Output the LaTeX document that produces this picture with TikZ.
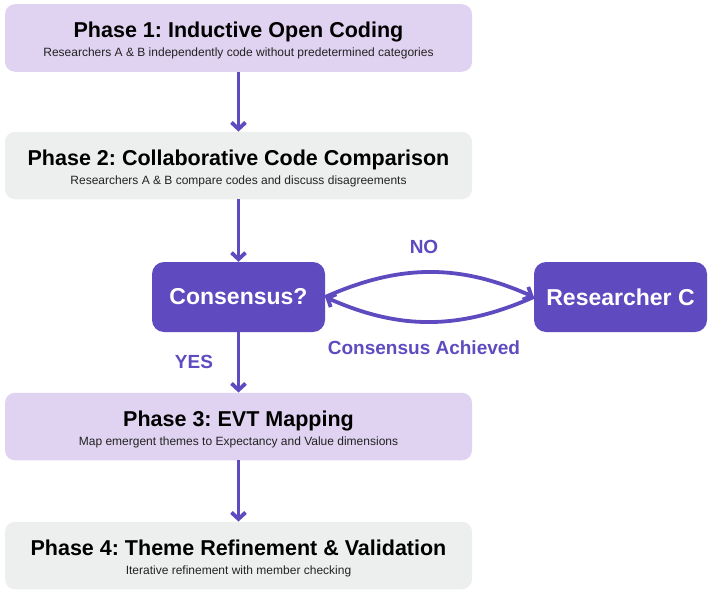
\documentclass[tikz,border=0pt]{standalone}
\usepackage{fontspec}
\setmainfont{Liberation Sans}
\usetikzlibrary{arrows.meta}
\definecolor{phasepurple}{HTML}{E0D3F1}
\definecolor{phasegray}{HTML}{EDEFEF}
\definecolor{deeppurple}{HTML}{5F4BBF}
\definecolor{subgray}{HTML}{222222}
\frenchspacing

\begin{document}
\begin{tikzpicture}[x=1pt, y=-1pt,
  phase/.style={rounded corners=10pt, minimum width=467pt, minimum height=67.5pt,
    align=center, inner sep=0pt, text=subgray, font=\fontsize{12}{19}\selectfont},
  decision/.style={fill=deeppurple, text=white, rounded corners=12pt, minimum width=173pt,
    minimum height=70pt, inner sep=0pt, font=\fontsize{23}{27}\selectfont\bfseries},
  flow/.style={deeppurple, line width=3.8pt, -{Straight Barb[length=6.5pt,width=14pt]}},
  tag/.style={text=deeppurple, font=\fontsize{19}{22}\selectfont\bfseries}]
  \useasboundingbox (0,0) rectangle (708,594);

  % phases
  \node[phase, fill=phasepurple] (p1) at (238.5,38)
    {{\fontsize{21.5}{19}\selectfont\bfseries\color{black}\rule{0pt}{21pt}Phase 1: Inductive Open Coding}\\
     Researchers A \& B independently code without predetermined categories};
  \node[phase, fill=phasegray] (p2) at (238.5,165.5)
    {{\fontsize{21.5}{19}\selectfont\bfseries\color{black}\rule{0pt}{21pt}Phase 2: Collaborative Code Comparison}\\
     Researchers A \& B compare codes and discuss disagreements};
  \node[phase, fill=phasepurple] (p3) at (238.5,426.5)
    {{\fontsize{21.5}{19}\selectfont\bfseries\color{black}\rule{0pt}{21pt}Phase 3: EVT Mapping}\\
     Map emergent themes to Expectancy and Value dimensions};
  \node[phase, fill=phasegray] (p4) at (238.5,555.5)
    {{\fontsize{21.5}{19}\selectfont\bfseries\color{black}\rule{0pt}{21pt}Phase 4: Theme Refinement \& Validation}\\
     Iterative refinement with member checking};

  % decision loop
  \node[decision] (cons) at (238.5,297) {Consensus?};
  \node[decision] (resc) at (620.5,297) {Researcher C};

  \draw[flow] (p1) -- (p2);
  \draw[flow] (p2) -- (cons);
  \draw[flow] (cons) -- (p3);
  \draw[flow] (p3) -- (p4);
  \draw[flow] (cons.east) to[bend left=24] (resc.west);
  \draw[flow] (resc.west) to[bend left=24] (cons.east);

  \node[tag] (no) at (424,247) {NO};
  \node[tag] (agreed) at (424,348) {Consensus Achieved};
  \node[tag] (yes) at (194,362) {YES};
\end{tikzpicture}
\end{document}
